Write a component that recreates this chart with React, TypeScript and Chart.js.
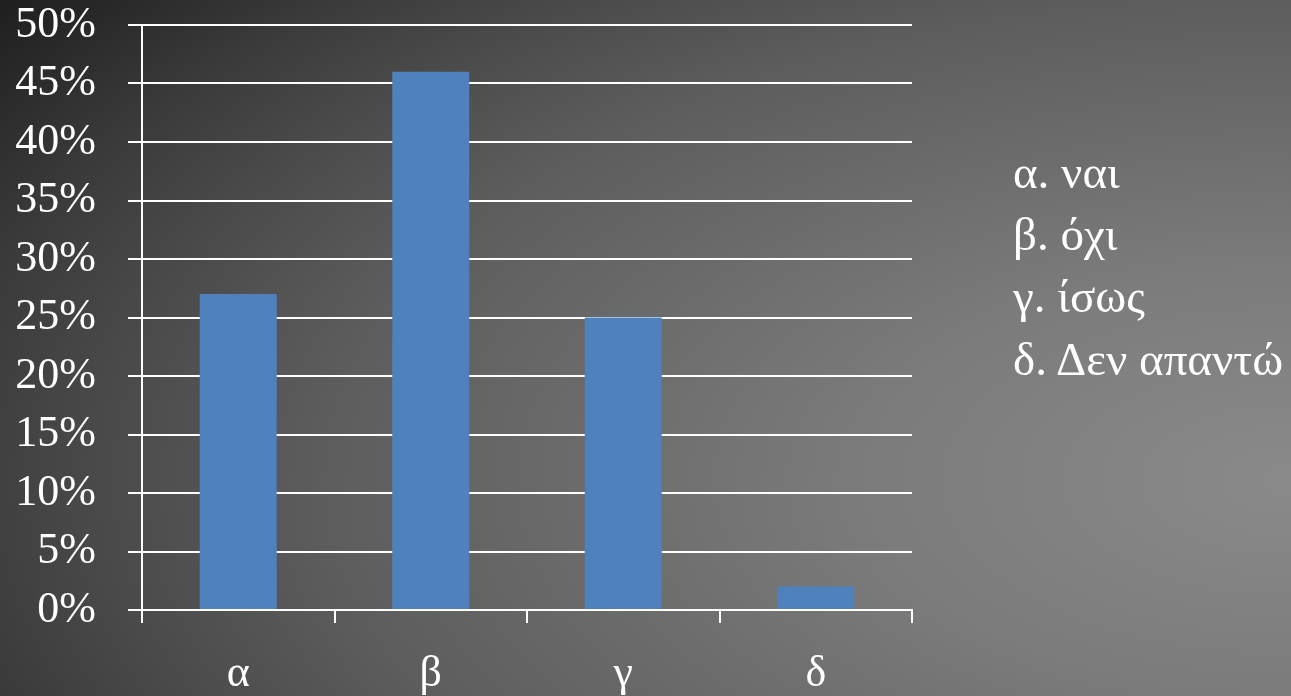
import React, { useEffect, useRef } from "react";
import { Chart, registerables } from "chart.js";

Chart.register(...registerables);

const categories = ["α", "β", "γ", "δ"];
const values = [0.27, 0.46, 0.25, 0.02];
const legendLines = ["α. ναι", "β. όχι", "γ. ίσως", "δ. Δεν απαντώ"];
const yMax = 0.5;
const yStep = 0.05;

const FONT = "'Liberation Serif', 'Times New Roman', serif";

export default function App() {
  const ref = useRef<HTMLCanvasElement | null>(null);

  useEffect(() => {
    document.body.style.margin = "0";
    const canvas = ref.current;
    if (!canvas) return;
    const chart = new Chart(canvas, {
      type: "bar",
      data: {
        labels: categories,
        datasets: [
          {
            data: values,
            backgroundColor: "#4f81bd",
            borderWidth: 0,
            barPercentage: 0.4,
            categoryPercentage: 1,
          },
        ],
      },
      options: {
        animation: false,
        responsive: false,
        maintainAspectRatio: false,
        layout: { padding: { top: 0, right: 379, left: 0, bottom: 0 } },
        plugins: { legend: { display: false }, tooltip: { enabled: false } },
        scales: {
          x: {
            grid: {
              offset: true,
              drawOnChartArea: false,
              drawTicks: true,
              tickLength: 13,
              color: "#ffffff",
              lineWidth: 2,
            },
            border: { display: true, color: "#ffffff", width: 2 },
            ticks: {
              color: "#ffffff",
              font: { family: FONT, size: 44 },
              padding: 25,
              maxRotation: 0,
            },
            afterFit: (scale: any) => {
              scale.height = 86;
            },
          },
          y: {
            min: 0,
            max: yMax,
            grid: {
              color: "#ffffff",
              lineWidth: 2,
              drawTicks: true,
              tickLength: 14,
            },
            border: { display: true, color: "#ffffff", width: 2 },
            ticks: {
              stepSize: yStep,
              autoSkip: false,
              color: "#ffffff",
              font: { family: FONT, size: 44, lineHeight: 1 },
              padding: 32,
              callback: (v: any) => Math.round(Number(v) * 100) + "%",
            },
            afterFit: (scale: any) => {
              scale.width = 142;
              scale.paddingTop = 25;
            },
          },
        },
      },
    });
    return () => chart.destroy();
  }, []);

  return (
    <div
      style={{
        position: "fixed",
        left: 0,
        top: 0,
        width: 1291,
        height: 696,
        background:
          "radial-gradient(1400px 700px at 1291px 480px, #8a8a8a 0%, #7b7b7b 31%, #5d5d5d 69%, #4a4a4a 85%, #3a3a3a 97%, #1e1e1e 115%)",
        overflow: "hidden",
      }}
    >
      <canvas ref={ref} width={1291} height={696} style={{ position: "absolute", left: 0, top: 0 }} />
      {legendLines.map((t, i) => (
        <div
          key={t}
          style={{
            position: "absolute",
            left: 1013,
            top: 148.6 + i * 62.3,
            fontFamily: FONT,
            fontSize: 47,
            lineHeight: "47px",
            color: "#ffffff",
            whiteSpace: "nowrap",
          }}
        >
          {t}
        </div>
      ))}
    </div>
  );
}
